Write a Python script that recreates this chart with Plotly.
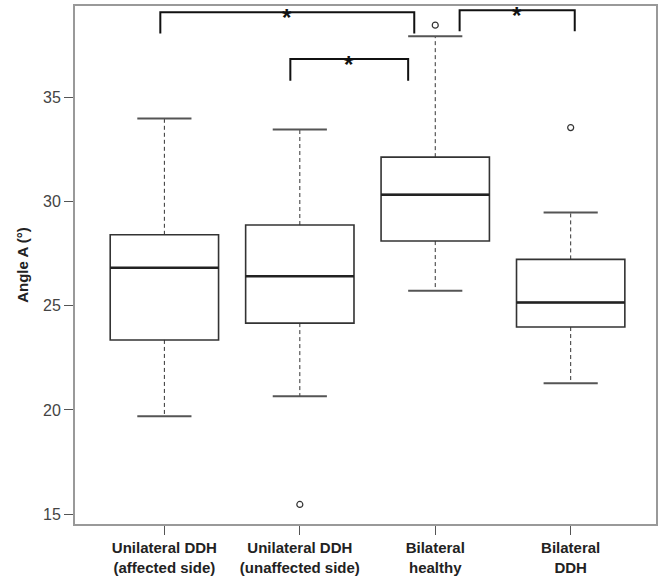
import plotly.graph_objects as go

# ---- data ----
categories = ["Unilateral DDH<br>(affected side)", "Unilateral DDH<br>(unaffected side)",
              "Bilateral<br>healthy", "Bilateral<br>DDH"]
q1 = [23.36, 24.17, 28.11, 23.98]
median = [26.83, 26.42, 30.34, 25.16]
q3 = [28.41, 28.88, 32.14, 27.23]
lower_whisker = [19.69, 20.65, 25.72, 21.28]
upper_whisker = [34.00, 33.47, 37.95, 29.48]
outlier_group = [2, 3, 4]
outlier_value = [15.46, 38.48, 33.56]

# significance brackets (group positions, bracket level, leg end)
bracket_start = [0.97, 1.93, 3.18]
bracket_end = [2.845, 2.80, 4.03]
bracket_top = [39.10, 36.85, 39.20]
bracket_leg = [38.08, 35.81, 38.19]
bracket_label = ["*", "*", "*"]

positions = [1, 2, 3, 4]
BOX_W = 0.8
CAP_HALF = 0.2

fig = go.Figure()

# whiskers (dashed)
for p, lo, hi, a, b in zip(positions, lower_whisker, upper_whisker, q1, q3):
    fig.add_trace(go.Scatter(x=[p, p, None, p, p], y=[b, hi, None, a, lo], mode="lines",
                             line=dict(color="#333333", width=1, dash="4px,3px"),
                             hoverinfo="skip", showlegend=False))
    fig.add_trace(go.Scatter(x=[p - CAP_HALF, p + CAP_HALF, None, p - CAP_HALF, p + CAP_HALF],
                             y=[hi, hi, None, lo, lo], mode="lines",
                             line=dict(color="#555555", width=2),
                             hoverinfo="skip", showlegend=False))

# boxes
for p, a, m, b in zip(positions, q1, median, q3):
    fig.add_trace(go.Box(x=[p], q1=[a], median=[m], q3=[b], lowerfence=[a], upperfence=[b],
                         width=BOX_W, fillcolor="white",
                         line=dict(color="#333333", width=1.6),
                         whiskerwidth=0, showlegend=False))
    fig.add_trace(go.Scatter(x=[p - BOX_W / 2, p + BOX_W / 2], y=[m, m], mode="lines",
                             line=dict(color="#222222", width=2.5),
                             hoverinfo="skip", showlegend=False))

# outliers
fig.add_trace(go.Scatter(x=outlier_group, y=outlier_value, mode="markers",
                         marker=dict(symbol="circle-open", size=6, color="#333333",
                                     line=dict(width=1.2)),
                         showlegend=False))

# significance brackets
for s, e, t, l, lab in zip(bracket_start, bracket_end, bracket_top, bracket_leg, bracket_label):
    fig.add_trace(go.Scatter(x=[s, s, e, e], y=[l, t, t, l], mode="lines",
                             line=dict(color="#111111", width=2),
                             hoverinfo="skip", showlegend=False))
    fig.add_annotation(x=(s + e) / 2, y=t, text="<b>%s</b>" % lab, showarrow=False,
                       xref="x", yref="y", yanchor="middle", yshift=-5, borderpad=0,
                       font=dict(size=24, color="#111111", family="Arial"))

fig.update_layout(
    width=662, height=580,
    margin=dict(l=75, r=5, t=4, b=56),
    paper_bgcolor="white", plot_bgcolor="white",
    font=dict(family="Arial", color="#222222"),
    showlegend=False,
)
fig.update_xaxes(range=[0.34, 4.63], tickmode="array", tickvals=positions,
                 ticktext=["<b>%s</b>" % c for c in categories],
                 ticks="outside", ticklen=9, tickcolor="#555555", tickwidth=1,
                 showline=True, linecolor="#999999", linewidth=2, mirror=True,
                 showgrid=False, zeroline=False,
                 tickfont=dict(size=15, color="#222222"))
fig.update_yaxes(range=[14.52, 39.40], tickvals=[15, 20, 25, 30, 35],
                 ticks="outside", ticklen=9, tickcolor="#555555", tickwidth=1,
                 showline=True, linecolor="#999999", linewidth=2, mirror=True,
                 showgrid=False, zeroline=False,
                 tickfont=dict(size=16, color="#444444"),
                 title=dict(text="<b>Angle A (°)</b>", font=dict(size=15, color="#222222"),
                            standoff=11))

fig.write_html("out.html", config={"displayModeBar": False},
               post_script="document.body.style.margin='0px';")
